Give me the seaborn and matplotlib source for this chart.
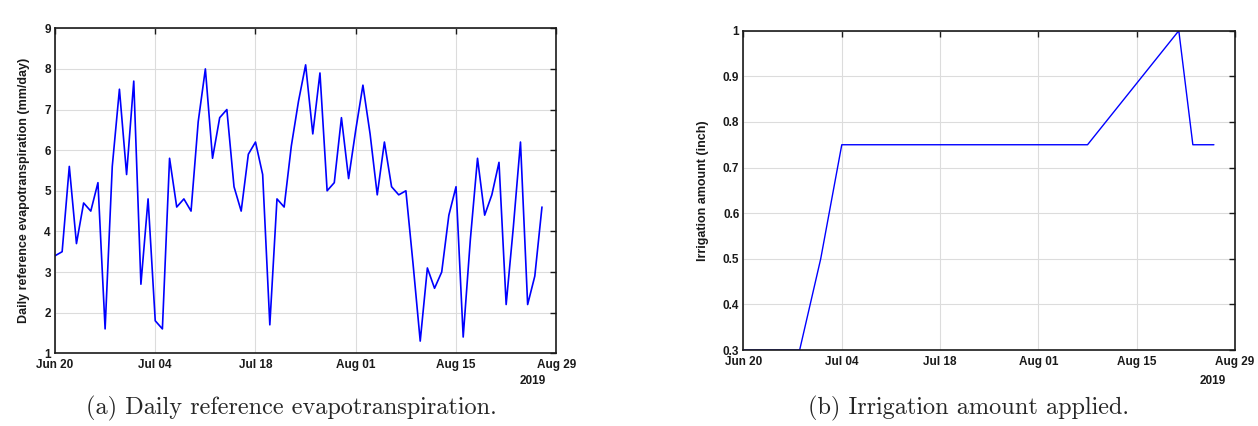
import numpy as np
import pandas as pd
import seaborn as sns
import matplotlib.pyplot as plt
import matplotlib.dates as mdates

# daily reference ET (mm/day), one value per day from Jun 20 2019
et_start = '2019-06-20'
et_values = [3.4, 3.5, 5.6, 3.7, 4.7, 4.5, 5.2, 1.6, 5.6, 7.5,
             5.4, 7.7, 2.7, 4.8, 1.8, 1.6, 5.8, 4.6, 4.8, 4.5,
             6.7, 8.0, 5.8, 6.8, 7.0, 5.1, 4.5, 5.9, 6.2, 5.4,
             1.7, 4.8, 4.6, 6.1, 7.2, 8.1, 6.4, 7.9, 5.0, 5.2,
             6.8, 5.3, 6.5, 7.6, 6.4, 4.9, 6.2, 5.1, 4.9, 5.0,
             3.2, 1.3, 3.1, 2.6, 3.0, 4.4, 5.1, 1.4, 3.8, 5.8,
             4.4, 4.9, 5.7, 2.2, 4.1, 6.2, 2.2, 2.9, 4.6]

# irrigation amount (inch)
irr_dates = ['2019-06-20', '2019-06-28', '2019-07-01', '2019-07-04',
             '2019-08-08', '2019-08-21', '2019-08-23', '2019-08-26']
irr_values = [0.3, 0.3, 0.5, 0.75, 0.75, 1.0, 0.75, 0.75]

x_ticks = ['2019-06-20', '2019-07-04', '2019-07-18', '2019-08-01',
           '2019-08-15', '2019-08-29']

et = pd.DataFrame({'date': pd.date_range(et_start, periods=len(et_values), freq='D'),
                   'et': et_values})
irr = pd.DataFrame({'date': pd.to_datetime(irr_dates), 'amount': irr_values})

sns.set_style('white')
plt.rcParams['font.family'] = ['Liberation Sans', 'DejaVu Sans']
plt.rcParams['axes.linewidth'] = 1.2

fig = plt.figure(figsize=(12.58, 4.26), dpi=100)
ax1 = fig.add_axes([0.0437, 0.1707, 0.3985, 0.7629])
ax2 = fig.add_axes([0.5910, 0.1784, 0.3907, 0.7495])


def style_axes(ax, ylabel, yticks, yfmt):
    ax.set_xlim(pd.Timestamp(x_ticks[0]), pd.Timestamp(x_ticks[-1]))
    ax.set_xticks(pd.to_datetime(x_ticks))
    ax.xaxis.set_major_formatter(mdates.DateFormatter('%b %d'))
    ax.set_yticks(yticks)
    ax.set_yticklabels([yfmt(v) for v in yticks])
    ax.set_ylim(yticks[0], yticks[-1])
    ax.tick_params(direction='in', top=True, right=True, length=4,
                   width=1.0, labelsize=8.5, pad=3, colors='#1a1a1a')
    ax.tick_params(axis='x', pad=4)
    for lab in ax.get_xticklabels() + ax.get_yticklabels():
        lab.set_fontweight('bold')
    ax.grid(True, color='#dcdcdc', linewidth=0.8)
    ax.set_axisbelow(True)
    ax.set_xlabel('')
    ax.set_ylabel(ylabel, fontsize=9, fontweight='bold', labelpad=10,
                  color='#1a1a1a')
    for sp in ax.spines.values():
        sp.set_color('#1a1a1a')


sns.lineplot(data=et, x='date', y='et', ax=ax1, color='blue', linewidth=1.2)
style_axes(ax1, 'Daily reference evapotranspiration (mm/day)',
           list(range(1, 10)), lambda v: f'{v:d}')
ax1.text(0.9794, -0.085, '2019', transform=ax1.transAxes, ha='right',
         va='center', fontsize=8.5, fontweight='bold', color='#1a1a1a')

sns.lineplot(data=irr, x='date', y='amount', ax=ax2, color='blue', linewidth=1.0)
style_axes(ax2, 'Irrigation amount (inch)',
           [0.3, 0.4, 0.5, 0.6, 0.7, 0.8, 0.9, 1.0], lambda v: f'{v:g}')
ax2.text(0.9817, -0.097, '2019', transform=ax2.transAxes, ha='right',
         va='center', fontsize=8.5, fontweight='bold', color='#1a1a1a')

fig.text(0.2313, 0.026, '(a) Daily reference evapotranspiration.',
         family='cmr10', fontsize=17.5, ha='center', va='baseline')
fig.text(0.7695, 0.026, '(b) Irrigation amount applied.',
         family='cmr10', fontsize=17.5, ha='center', va='baseline')

fig.savefig('out.png', dpi=100)
